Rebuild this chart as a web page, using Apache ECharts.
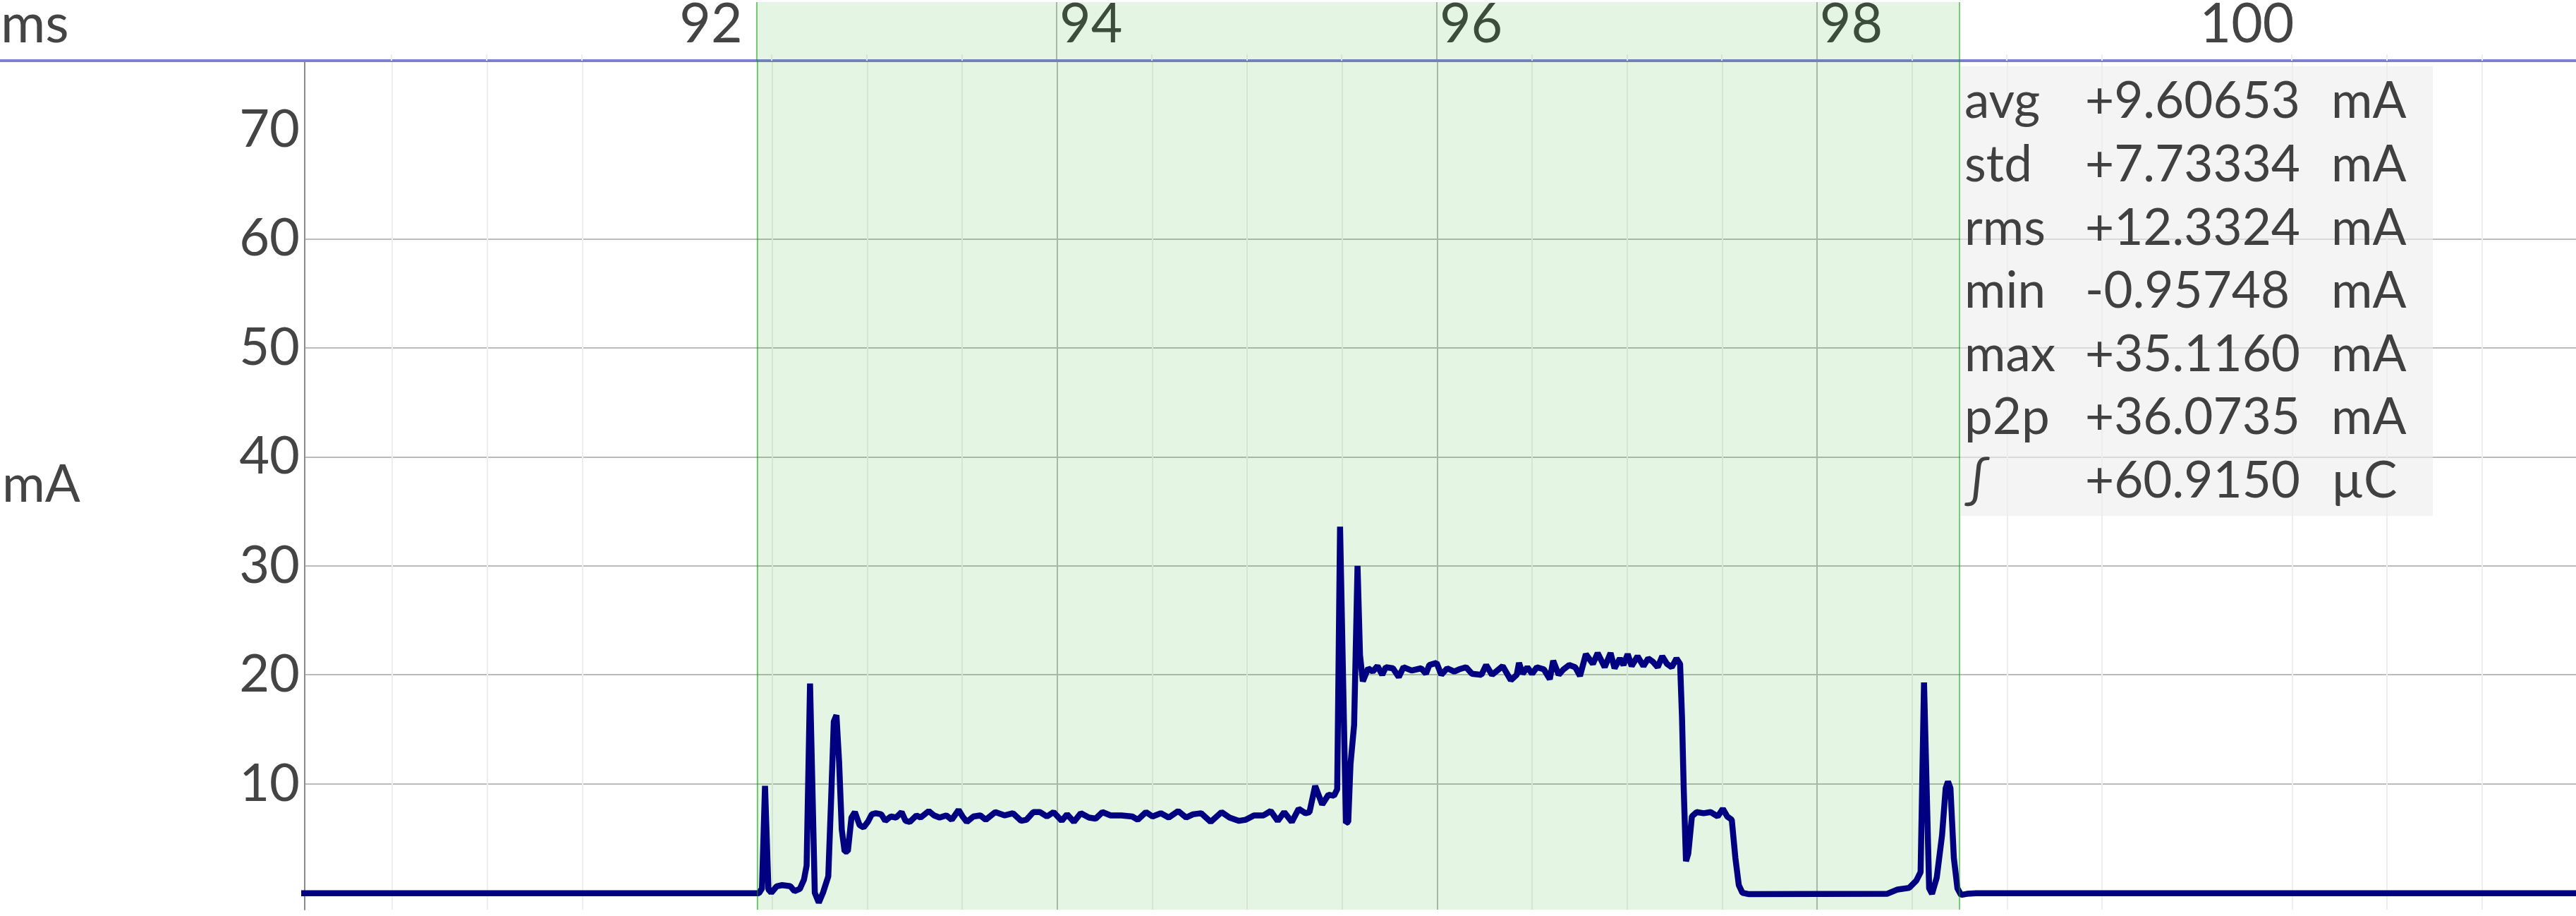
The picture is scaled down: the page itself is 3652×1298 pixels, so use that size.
<!DOCTYPE html>
<html>
<head>
<meta charset="utf-8">
<script src="https://cdn.jsdelivr.net/npm/echarts@6/dist/echarts.min.js"></script>
<style>
html,body{margin:0;padding:0;background:#fff;}
#c{width:3652px;height:1298px;}
</style>
</head>
<body>
<div id="c"></div>
<script>
// ---- data ----
const timeMs = [
  90.0, 92.43, 92.446, 92.462, 92.48, 92.495, 92.524, 92.552, 92.595, 92.617,
  92.645, 92.667, 92.681, 92.699, 92.724, 92.745, 92.767, 92.795, 92.81, 92.824,
  92.838, 92.852, 92.866, 92.881, 92.898, 92.917, 92.935, 92.96, 92.981, 93.003,
  93.024, 93.045, 93.074, 93.095, 93.124, 93.152, 93.181, 93.202, 93.224, 93.259,
  93.281, 93.324, 93.352, 93.381, 93.416, 93.445, 93.481, 93.502, 93.524, 93.559,
  93.595, 93.624, 93.674, 93.724, 93.767, 93.81, 93.838, 93.874, 93.91, 93.946,
  93.981, 94.024, 94.052, 94.088, 94.124, 94.167, 94.202, 94.238, 94.281, 94.338,
  94.395, 94.424, 94.467, 94.502, 94.545, 94.587, 94.637, 94.679, 94.715, 94.758,
  94.808, 94.865, 94.907, 94.957, 94.993, 95.036, 95.086, 95.124, 95.161, 95.195,
  95.235, 95.271, 95.307, 95.328, 95.358, 95.395, 95.428, 95.457, 95.474, 95.489,
  95.52, 95.532, 95.544, 95.563, 95.571, 95.581, 95.594, 95.609, 95.637, 95.661,
  95.686, 95.711, 95.73, 95.767, 95.798, 95.823, 95.866, 95.916, 95.941, 95.959,
  95.997, 96.022, 96.053, 96.09, 96.115, 96.152, 96.183, 96.233, 96.258, 96.289,
  96.345, 96.388, 96.419, 96.431, 96.45, 96.475, 96.5, 96.525, 96.562, 96.593,
  96.611, 96.64, 96.665, 96.695, 96.727, 96.752, 96.783, 96.82, 96.845, 96.882,
  96.913, 96.934, 96.962, 96.981, 97.003, 97.024, 97.055, 97.086, 97.111, 97.136,
  97.161, 97.185, 97.21, 97.235, 97.26, 97.279, 97.289, 97.298, 97.31, 97.322,
  97.341, 97.366, 97.403, 97.44, 97.477, 97.504, 97.527, 97.551, 97.57, 97.588,
  97.607, 97.638, 98.368, 98.424, 98.485, 98.522, 98.545, 98.563, 98.59, 98.605,
  98.63, 98.658, 98.677, 98.689, 98.702, 98.72, 98.739, 98.758, 98.789, 98.838,
  102.0
];
const currentMa = [
  -0.05, -0.05, 0.4, 9.8, 0.3, 0.0, 0.6, 0.7, 0.6, 0.15,
  0.35, 1.2, 2.5, 19.2, 0.0, -0.9, 0.0, 1.5, 8.6, 15.7,
  16.3, 12.0, 5.8, 3.8, 3.8, 6.9, 7.4, 6.2, 6.0, 6.5,
  7.2, 7.3, 7.2, 6.6, 7.0, 6.9, 7.4, 6.6, 6.5, 7.1,
  6.9, 7.5, 7.1, 6.9, 7.1, 6.7, 7.6, 7.0, 6.5, 7.0,
  7.1, 6.7, 7.4, 7.1, 7.3, 6.6, 6.7, 7.4, 7.4, 7.0,
  7.4, 6.6, 7.2, 6.5, 7.3, 6.9, 6.8, 7.4, 7.1, 7.1,
  7.0, 6.7, 7.4, 7.0, 7.3, 6.9, 7.5, 6.9, 7.2, 7.3,
  6.5, 7.4, 6.9, 6.6, 6.7, 7.1, 7.1, 7.5, 6.6, 7.4,
  6.5, 7.7, 7.3, 7.4, 9.8, 8.1, 9.0, 8.9, 9.5, 33.6,
  6.4, 6.5, 11.8, 15.4, 21.8, 30.0, 21.8, 19.4, 20.6, 20.3,
  20.8, 20.0, 20.7, 20.6, 19.8, 20.7, 20.4, 20.6, 20.1, 20.9,
  21.1, 20.0, 20.6, 20.3, 20.5, 20.7, 20.1, 20.0, 20.9, 20.0,
  20.8, 19.5, 20.0, 21.1, 20.1, 20.7, 20.1, 20.7, 20.5, 19.6,
  21.3, 20.0, 20.5, 20.9, 20.7, 19.9, 21.9, 21.0, 22.0, 20.7,
  22.0, 20.6, 21.5, 20.9, 21.9, 20.8, 21.7, 20.8, 21.5, 21.2,
  20.7, 21.7, 21.0, 20.7, 21.5, 21.0, 16.1, 9.6, 2.9, 3.6,
  7.0, 7.4, 7.3, 7.4, 7.0, 7.7, 7.0, 6.7, 3.2, 0.7,
  0.0, -0.12, -0.1, 0.3, 0.45, 1.1, 1.9, 19.3, 0.4, -0.1,
  1.4, 5.3, 9.6, 10.2, 9.6, 3.2, 0.4, -0.2, -0.1, -0.05,
  -0.05
];
const xTickValues = [92, 94, 96, 98, 100];
const yTickLabels = [10, 20, 30, 40, 50, 60, 70];
const yGridValues = [0, 10, 20, 30, 40, 50, 60, 70];
const selectionMs = [92.416, 98.751];
const statNames = ['avg', 'std', 'rms', 'min', 'max', 'p2p', '\u222B'];
const statValues = ['+9.60653', '+7.73334', '+12.3324', '-0.95748', '+35.1160', '+36.0735', '+60.9150'];
const statUnits = ['mA', 'mA', 'mA', 'mA', 'mA', 'mA', '\u00B5C'];

// ---- chart ----
const X_MIN = 90.039, X_MAX = 101.995;
const Y_MIN = -1.55, Y_MAX = 76.36;
const FONT = 'Lato';
const TXT = '#444444';
const GRID_C = '#bbbbbb';
const GREEN_FILL = 'rgba(0,160,0,0.106)';
const GREEN_EDGE = 'rgba(0,160,0,0.5)';
const BLUE = '#7f7fcf';

const chart = echarts.init(document.getElementById('c'), null, {renderer: 'canvas'});
const seriesData = timeMs.map((t, i) => [t, currentMa[i]]);

const greenArea = {
  silent: true,
  itemStyle: {color: GREEN_FILL, borderWidth: 0},
  data: [[{xAxis: selectionMs[0]}, {xAxis: selectionMs[1]}]]
};
const greenEdges = {
  silent: true,
  symbol: ['none', 'none'],
  label: {show: false},
  lineStyle: {color: GREEN_EDGE, width: 2, type: 'solid'},
  emphasis: {disabled: true},
  data: selectionMs.map(v => ({xAxis: v}))
};

const statElements = [];
statElements.push({
  type: 'rect', x: 2779, y: 94, z: 100, silent: true,
  shape: {width: 670, height: 637},
  style: {fill: 'rgba(236,236,236,0.6)'}
});
const rowY0 = 144.5, rowStep = 89.6;
const textStyleBase = {font: '71px ' + FONT, fill: '#404040', verticalAlign: 'middle', textVerticalAlign: 'middle', lineHeight: 71};
statNames.forEach((n, i) => {
  statElements.push({type: 'text', x: 2785, y: rowY0 + rowStep * i, z: 101, silent: true,
    style: Object.assign({text: n}, textStyleBase)});
  statElements.push({type: 'text', x: 2956, y: rowY0 + rowStep * i, z: 101, silent: true,
    style: Object.assign({text: statValues[i]}, textStyleBase)});
  statElements.push({type: 'text', x: 3305, y: rowY0 + rowStep * i, z: 101, silent: true,
    style: Object.assign({text: statUnits[i]}, textStyleBase)});
});

const option = {
  animation: false,
  backgroundColor: '#ffffff',
  textStyle: {fontFamily: FONT},
  grid: [
    {left: 431, right: 0, top: 86, bottom: 9, containLabel: false},
    {left: 431, right: 0, top: 0, height: 86, containLabel: false},
    {left: 0, top: 0, width: 431, height: 86, containLabel: false}
  ],
  xAxis: [
    {
      gridIndex: 0, type: 'value', position: 'top', min: X_MIN, max: X_MAX, splitNumber: 6,
      axisLine: {show: false},
      axisTick: {show: false, customValues: xTickValues},
      axisLabel: {show: false},
      splitLine: {show: true, showMinLine: false, showMaxLine: false, lineStyle: {color: GRID_C, width: 2}},
      minorTick: {show: false, splitNumber: 4},
      minorSplitLine: {show: true, lineStyle: {color: '#eeeeee', width: 2}}
    },
    {
      gridIndex: 1, type: 'value', position: 'bottom', min: X_MIN, max: X_MAX, splitNumber: 6,
      axisLine: {show: true, lineStyle: {color: BLUE, width: 4}},
      axisTick: {show: false, inside: true, customValues: xTickValues},
      axisLabel: {
        show: true, inside: true, customValues: xTickValues, align: 'left', margin: 12,
        padding: [0, 0, 0, 4], fontSize: 77, lineHeight: 77, fontFamily: FONT, color: TXT,
        showMinLabel: true, showMaxLabel: true
      },
      splitLine: {show: true, showMinLine: false, showMaxLine: false, lineStyle: {color: GRID_C, width: 2}},
      minorTick: {show: true, splitNumber: 4, length: 9, lineStyle: {color: '#eeeeee', width: 2}},
      minorSplitLine: {show: false}
    },
    {
      gridIndex: 2, type: 'value', position: 'bottom', min: 0, max: 1,
      axisLine: {show: true, lineStyle: {color: BLUE, width: 4}},
      axisTick: {show: false}, axisLabel: {show: false}, splitLine: {show: false},
      name: 'ms', nameLocation: 'start', nameGap: -1,
      nameTextStyle: {align: 'left', verticalAlign: 'bottom', fontSize: 77, lineHeight: 77,
        fontFamily: FONT, color: TXT, padding: [0, 0, 12, 0]}
    }
  ],
  yAxis: [
    {
      gridIndex: 0, type: 'value', min: Y_MIN, max: Y_MAX, splitNumber: 8,
      axisLine: {show: true, lineStyle: {color: '#8c8c8c', width: 2}},
      axisTick: {show: false, customValues: yGridValues},
      axisLabel: {
        show: true, customValues: yTickLabels, margin: 7, fontSize: 74, lineHeight: 74,
        fontFamily: FONT, color: TXT, padding: [15, 0, 0, 0]
      },
      splitLine: {show: true, showMinLine: false, showMaxLine: false, lineStyle: {color: GRID_C, width: 2}},
      name: 'mA', nameLocation: 'middle', nameRotate: 0, nameGap: 429,
      nameTextStyle: {align: 'left', fontSize: 74, lineHeight: 74, fontFamily: FONT, color: TXT, padding: [27, 0, 0, 0]}
    },
    {gridIndex: 1, type: 'value', min: 0, max: 1, show: false},
    {gridIndex: 2, type: 'value', min: 0, max: 1, show: false}
  ],
  series: [
    {
      name: 'current', type: 'line', xAxisIndex: 0, yAxisIndex: 0,
      data: seriesData, symbol: 'none', showSymbol: false,
      lineStyle: {color: '#000080', width: 8.5, join: 'bevel'},
      emphasis: {disabled: true},
      markArea: greenArea,
      markLine: greenEdges
    },
    {
      name: 'header', type: 'line', xAxisIndex: 1, yAxisIndex: 1,
      data: [], symbol: 'none',
      markArea: greenArea,
      markLine: greenEdges
    }
  ],
  graphic: {elements: statElements}
};
chart.setOption(option);
</script>
</body>
</html>
